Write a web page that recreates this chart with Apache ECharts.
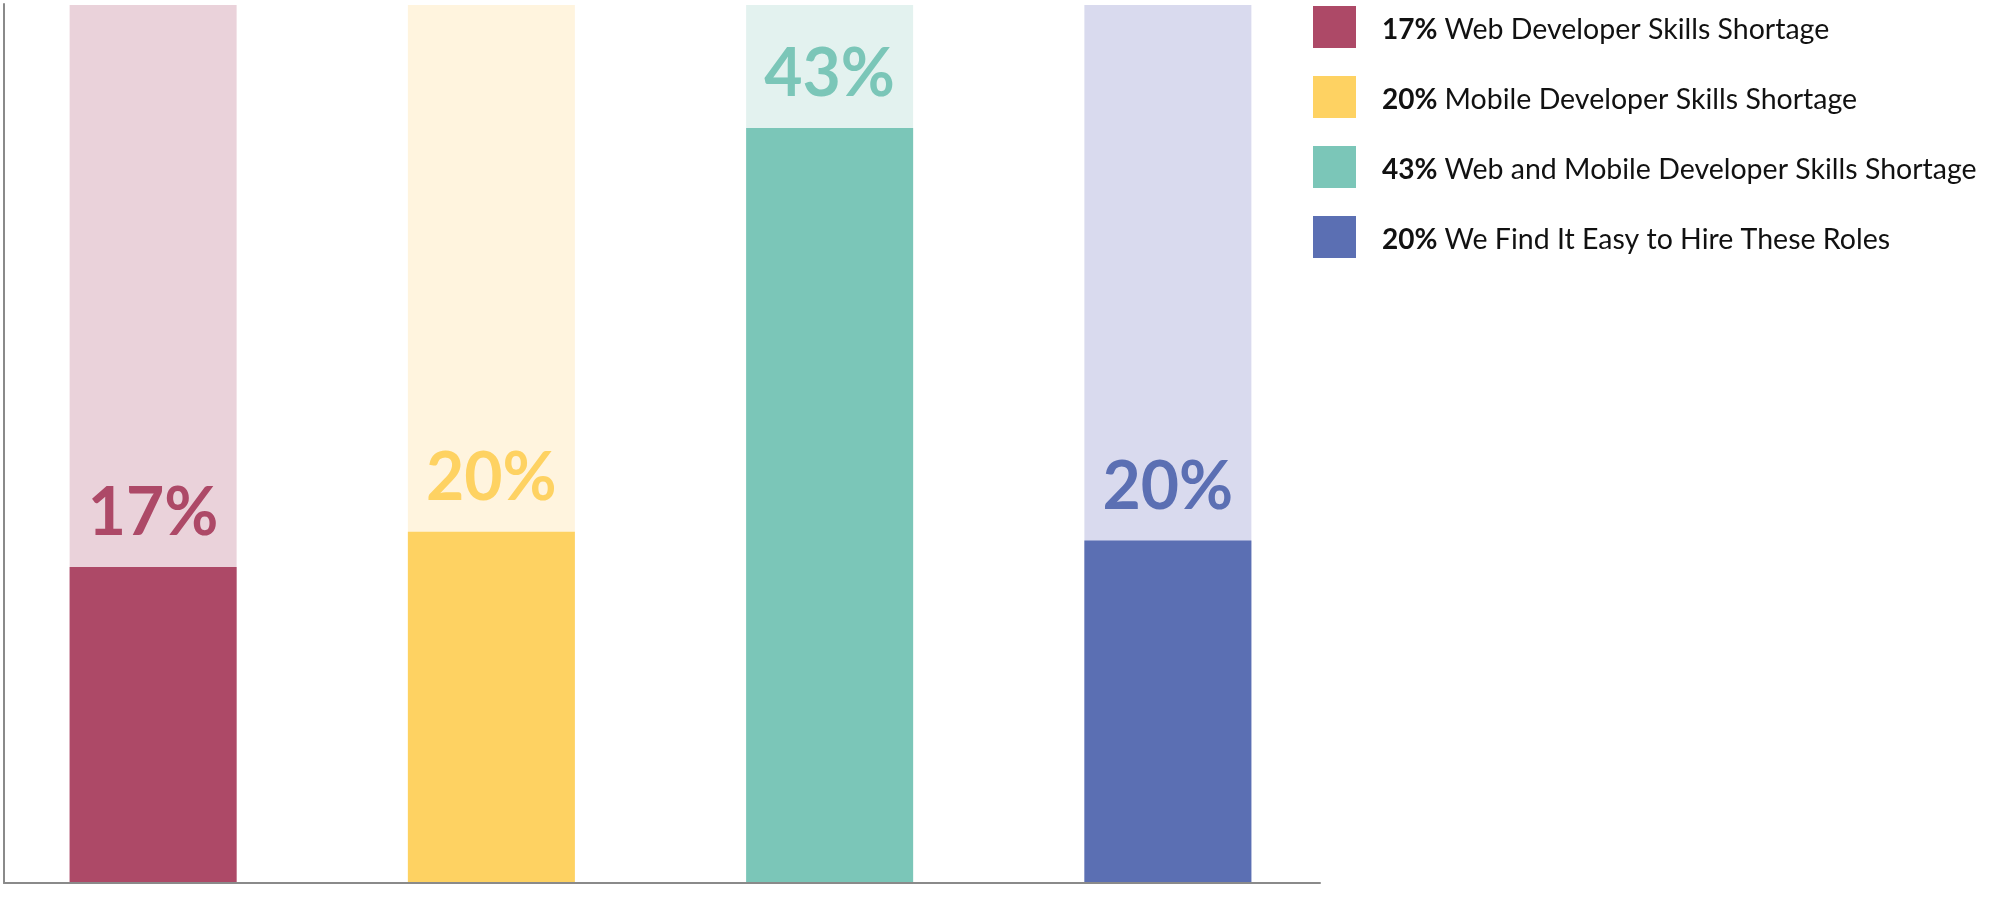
<!DOCTYPE html>
<html>
<head>
<meta charset="utf-8">
<script src="https://cdn.jsdelivr.net/npm/echarts@6/dist/echarts.min.js"></script>
<style>
html,body{margin:0;padding:0;background:#fff;}
#chart{width:1997px;height:902px;}
</style>
</head>
<body>
<div id="chart"></div>
<script>
// ---- data ----
var categories = ['Web Developer Skills Shortage', 'Mobile Developer Skills Shortage', 'Web and Mobile Developer Skills Shortage', 'We Find It Easy to Hire These Roles'];
var percentLabels = ['17%', '20%', '43%', '20%'];
var barValues = [18, 20, 43, 19.5];      // drawn bar heights
var backgroundValues = [50, 50, 50, 50]; // full-height pale columns
var barColors = ['#AD4967', '#FED262', '#7BC6B8', '#5B6FB3'];
var bgColors = ['#EAD2DA', '#FFF4DE', '#E3F2EF', '#D9DAEE'];
var yMax = 50;

// ---- build ----
var FONT = 'Lato';
var series = [];
series.push({
  name: 'bg',
  type: 'bar',
  xAxisIndex: 0, yAxisIndex: 0,
  barWidth: 167,
  barGap: '-100%',
  silent: true,
  z: 1,
  data: backgroundValues.map(function (v, i) {
    return { value: v, itemStyle: { color: bgColors[i] } };
  })
});
categories.forEach(function (name, i) {
  series.push({
    name: name,
    type: 'bar',
    xAxisIndex: 0, yAxisIndex: 0,
    barWidth: 167,
    barGap: '-100%',
    z: 2,
    itemStyle: { color: barColors[i] },
    label: {
      show: true,
      position: 'top',
      distance: 20,
      fontFamily: FONT,
      fontSize: 66,
      fontWeight: 'bold',
      color: barColors[i],
      formatter: function () { return percentLabels[i]; }
    },
    data: categories.map(function (c, j) { return j === i ? barValues[i] : '-'; })
  });
});

var chart = echarts.init(document.getElementById('chart'), null, { renderer: 'canvas' });
chart.setOption({
  animation: false,
  backgroundColor: '#fff',
  textStyle: { fontFamily: FONT },
  grid: [
    { left: -16, right: 660, top: 5, bottom: 19, outerBoundsMode: 'none', containLabel: false },
    { left: 4, right: 677, top: 4, bottom: 19, outerBoundsMode: 'none', containLabel: false }
  ],
  xAxis: [
    { type: 'category', gridIndex: 0, data: categories, show: false },
    { type: 'value', gridIndex: 1, min: 0, max: 1, z: 5,
      axisLine: { show: true, lineStyle: { color: '#8a8a8a', width: 2 } },
      axisTick: { show: false }, axisLabel: { show: false }, splitLine: { show: false } }
  ],
  yAxis: [
    { type: 'value', gridIndex: 0, min: 0, max: yMax, show: false },
    { type: 'value', gridIndex: 1, min: 0, max: 1, z: 5,
      axisLine: { show: true, lineStyle: { color: '#8a8a8a', width: 2 } },
      axisTick: { show: false }, axisLabel: { show: false }, splitLine: { show: false } }
  ],
  legend: {
    orient: 'vertical',
    left: 1313,
    top: 6,
    padding: 0,
    itemWidth: 43,
    itemHeight: 42,
    itemGap: 28,
    icon: 'rect',
    selectedMode: false,
    data: categories,
    formatter: function (name) {
      var i = categories.indexOf(name);
      return '{b|' + percentLabels[i] + '} {n|' + name + '}';
    },
    textStyle: {
      fontFamily: FONT, fontSize: 28, color: '#111',
      rich: {
        b: { fontFamily: FONT, fontSize: 28, fontWeight: 'bold', color: '#111', padding: [6, 0, 0, 21] },
        n: { fontFamily: FONT, fontSize: 28.5, color: '#111', padding: [6, 0, 0, 0] }
      }
    }
  },
  series: series
});
</script>
</body>
</html>
